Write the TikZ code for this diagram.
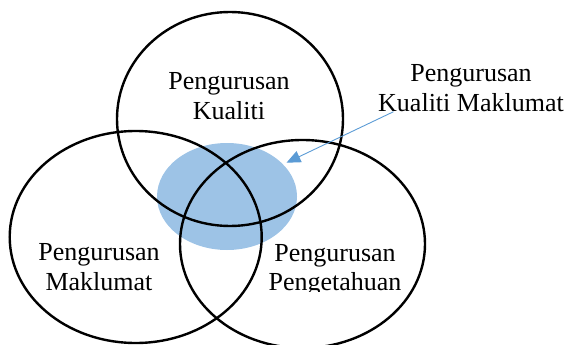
\documentclass[tikz,border=0pt]{standalone}
\usepackage{fontspec}
\setmainfont{Liberation Serif}
\usetikzlibrary{arrows.meta}
\definecolor{overlapblue}{HTML}{9DC3E6}
\definecolor{pointerblue}{HTML}{5B9BD5}
\begin{document}
\begin{tikzpicture}[x=1pt,y=-1pt,
  ring/.style={draw=black,line width=2.4pt},
  lbl/.style={inner sep=0pt,anchor=base,font=\fontsize{26}{30}\selectfont},
  pointer/.style={draw=pointerblue,line width=0.9pt,-{Triangle[length=14pt,width=12pt]}}]
  \useasboundingbox (0,0) rectangle (567,345);

  % shared core of the three areas
  \fill[overlapblue] (227,196.5) ellipse [x radius=70,y radius=53.5];

  % the three areas
  \draw[ring] (230,119) ellipse [x radius=113,y radius=107];
  \draw[ring] (135.7,237) ellipse [x radius=126,y radius=106];
  \draw[ring] (302.5,244) ellipse [x radius=122.5,y radius=104];

  % area labels
  \node[lbl] (kq1) at (229,89.3) {Pengurusan};
  \node[lbl] (kq2) at (229,119.3) {Kualiti};

  \begin{scope}
    \clip (0,0) rectangle (567,291.5);
    \node[lbl] (km1) at (99,260.7) {Pengurusan};
    \node[lbl] (km2) at (99,290) {Maklumat};
    \node[lbl] (kp1) at (335,261) {Pengurusan};
    \node[lbl] (kp2) at (335,290) {Pengetahuan};
  \end{scope}

  % label of the shared core
  \node[lbl] (kqm1) at (471,81.7) {Pengurusan};
  \node[lbl] (kqm2) at (471,111) {Kualiti Maklumat};

  \coordinate (ptrStart) at (393.5,111.7);
  \coordinate (ptrTip) at (286.5,162.7);
  \draw[pointer] (ptrStart) -- (ptrTip);
\end{tikzpicture}
\end{document}
